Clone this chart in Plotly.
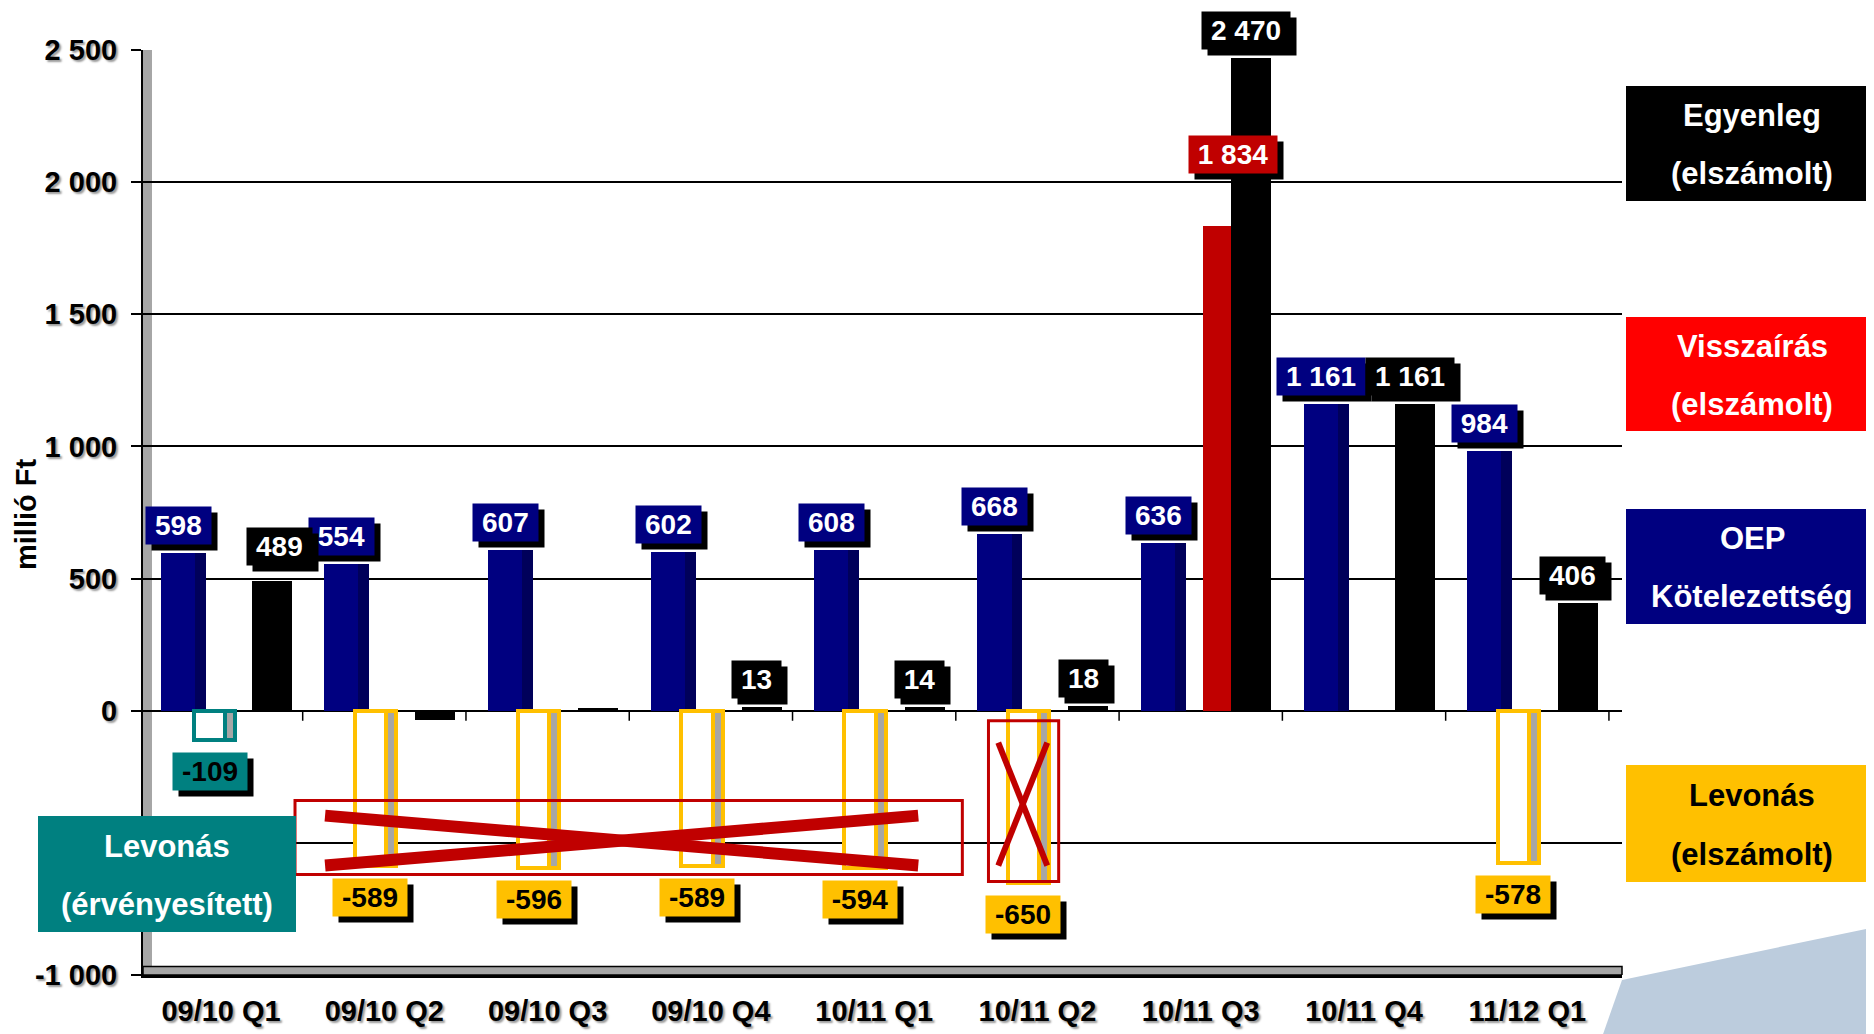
import plotly.graph_objects as go

# ---------------- data ----------------
categories = ["09/10 Q1", "09/10 Q2", "09/10 Q3", "09/10 Q4", "10/11 Q1",
              "10/11 Q2", "10/11 Q3", "10/11 Q4", "11/12 Q1"]
oep_kotelezettseg = [598, 554, 607, 602, 608, 668, 636, 1161, 984]
levonas_elszamolt = [None, -589, -596, -589, -594, -650, None, None, -578]
levonas_ervenyesitett = [-109, None, None, None, None, None, None, None, None]
visszairas = [None, None, None, None, None, None, 1834, None, None]
egyenleg = [489, -35, 11, 13, 14, 18, 2470, 1161, 406]
egyenleg_labelled = [True, False, False, True, True, True, True, True, True]
y_tick_values = [-1000, -500, 0, 500, 1000, 1500, 2000, 2500]
y_tick_labels = ["-1 000", "", "0", "500", "1 000", "1 500", "2 000", "2 500"]

# ---------------- layout constants ----------------
FONT = "Liberation Sans"
PAGE = 8                      # default body margin of the html page
W, H = 1874 - PAGE, 1034 - PAGE
PLOT_L, PLOT_R, PLOT_T, PLOT_B = 143, 1622, 50, 975   # page pixels
ML, MT = PLOT_L - PAGE, PLOT_T - PAGE
MR, MB = W - (PLOT_R - PAGE), H - (PLOT_B - PAGE)
PW, PH = PLOT_R - PLOT_L, PLOT_B - PLOT_T
X_RANGE = [-0.478, 8.58]
Y_RANGE = [-1000, 2500]


def paper_x(px):
    return (px - PLOT_L) / PW


def paper_y(py):
    return (PLOT_B - py) / PH


def fmt(v):
    s = f"{abs(v):,}".replace(",", " ")
    return ("-" if v < 0 else "") + s


def text_width(txt, size):
    w = 0
    for ch in txt:
        if ch.isdigit():
            w += 0.556
        elif ch == " ":
            w += 0.278
        elif ch == "-":
            w += 0.333
        else:
            w += 0.6
    return w * size


series = [
    dict(key="oep", values=oep_kotelezettseg, center=-0.23, width=0.275,
         face="#000080", side="#00005A", line=None, label_bg="#000080", label_fg="white"),
    dict(key="lev", values=levonas_elszamolt, center=-0.055, width=0.255,
         face="white", side="#A6A6A6", line="#FFC000", label_bg="#FFC000", label_fg="black"),
    dict(key="erv", values=levonas_ervenyesitett, center=-0.04, width=0.25,
         face="white", side="#A6A6A6", line="#008080", label_bg="#008080", label_fg="black"),
    dict(key="vissza", values=visszairas, center=0.14, width=0.25,
         face="#C00000", side="#A00000", line=None, label_bg="#C00000", label_fg="white"),
    dict(key="egy", values=egyenleg, center=0.31, width=0.245,
         face="#000000", side="#000000", line=None, label_bg="#000000", label_fg="white"),
]

fig = go.Figure()

for s in series:
    left = s["center"] - s["width"] / 2
    lw = 4 if s["line"] else 0
    lc = s["line"] or s["face"]
    # side (depth) face
    fig.add_trace(go.Bar(x=categories, y=s["values"], width=s["width"], offset=left,
                         marker=dict(color=s["side"], line=dict(color=lc, width=lw)),
                         showlegend=False, hoverinfo="skip"))
    # front face
    fig.add_trace(go.Bar(x=categories, y=s["values"], width=s["width"] * 0.76, offset=left,
                         marker=dict(color=s["face"], line=dict(color=lc, width=lw)),
                         showlegend=False, hoverinfo="skip"))

# ---------------- data labels ----------------
LABEL_SIZE = 28
label_shift = {("vissza", 6): (9, 52), ("egy", 0): (8, 15)}

for s in series:
    for i, v in enumerate(s["values"]):
        if v is None:
            continue
        if s["key"] == "egy" and not egyenleg_labelled[i]:
            continue
        txt = fmt(v)
        dx, dy = label_shift.get((s["key"], i), (-5, 8))
        pos = v >= 0
        ys = dy if pos else -12
        common = dict(x=i + s["center"], y=v, xref="x", yref="y",
                      showarrow=False, xanchor="center",
                      yanchor="bottom" if pos else "top",
                      borderpad=3, width=text_width(txt, LABEL_SIZE) + 12)
        # drop shadow box (blank text)
        fig.add_annotation(**common, text="\u00a0", bgcolor="black", xshift=dx + 6, yshift=ys - 6,
                           font=dict(family=FONT, size=LABEL_SIZE, weight="bold", color="black"))
        fig.add_annotation(**common, text=txt, bgcolor=s["label_bg"], xshift=dx, yshift=ys,
                           font=dict(family=FONT, size=LABEL_SIZE, weight="bold", color=s["label_fg"]))

# ---------------- decorative shapes ----------------
shapes = []
# left wall
shapes.append(dict(type="rect", xref="paper", yref="paper", x0=0, x1=paper_x(152), y0=0, y1=1,
                   fillcolor="#A6A6A6", line=dict(width=0), layer="below"))
# floor
shapes.append(dict(type="rect", xref="paper", yref="y", x0=0, x1=1, y0=-1000, y1=-968,
                   fillcolor="#A6A6A6", line=dict(color="black", width=1.5), layer="below"))
# category ticks on the zero line
for i in range(len(categories)):
    shapes.append(dict(type="line", xref="x", yref="y", x0=i + 0.5, x1=i + 0.5, y0=0, y1=-38,
                       line=dict(color="black", width=1.5)))
# red crossings
RED = "#C00000"
shapes.append(dict(type="rect", xref="x", yref="y", x0=0.453, x1=4.54, y0=-340, y1=-620,
                   line=dict(color=RED, width=3)))
shapes.append(dict(type="line", xref="x", yref="y", x0=0.637, x1=4.27, y0=-397, y1=-586,
                   line=dict(color=RED, width=12)))
shapes.append(dict(type="line", xref="x", yref="y", x0=0.637, x1=4.27, y0=-586, y1=-397,
                   line=dict(color=RED, width=12)))
shapes.append(dict(type="rect", xref="x", yref="y", x0=4.70, x1=5.13, y0=-38, y1=-646,
                   line=dict(color=RED, width=3)))
shapes.append(dict(type="line", xref="x", yref="y", x0=4.76, x1=5.06, y0=-121, y1=-586,
                   line=dict(color=RED, width=6)))
shapes.append(dict(type="line", xref="x", yref="y", x0=4.76, x1=5.06, y0=-586, y1=-121,
                   line=dict(color=RED, width=6)))
# bottom-right wedge
pts = [(1601, 1040), (1622, 980), (1880, 926), (1880, 1040)]
path = "M " + " L ".join(f"{paper_x(x):.5f},{paper_y(y):.5f}" for x, y in pts) + " Z"
shapes.append(dict(type="path", xref="paper", yref="paper", path=path,
                   fillcolor="#BCCCDD", line=dict(width=0), layer="below"))

# ---------------- legend boxes ----------------
legend_boxes = [
    (["Egyenleg", "(elszámolt)"], "#000000", "white", 1626, 1880, 86, 201, 1752),
    (["Visszaírás", "(elszámolt)"], "#FF0000", "white", 1626, 1880, 317, 431, 1752),
    (["OEP", "Kötelezettség"], "#000080", "white", 1626, 1880, 509, 624, 1752),
    (["Levonás", "(elszámolt)"], "#FFC000", "black", 1626, 1880, 765, 882, 1752),
    (["Levonás", "(érvényesített)"], "#008080", "white", 38, 296, 816, 932, 167),
]
for lines, bg, fg, x0, x1, y0, y1, xc in legend_boxes:
    shapes.append(dict(type="rect", xref="paper", yref="paper",
                       x0=paper_x(x0), x1=paper_x(x1), y0=paper_y(y1), y1=paper_y(y0),
                       fillcolor=bg, line=dict(width=0), layer="above"))
    h = y1 - y0
    for k, t in enumerate(lines):
        yc = y0 + h * (0.26 if k == 0 else 0.765)
        fig.add_annotation(x=paper_x(xc), y=paper_y(yc), xref="paper", yref="paper",
                           text=t, showarrow=False, xanchor="center", yanchor="middle",
                           font=dict(family=FONT, size=31, weight="bold", color=fg))

# y-axis title
fig.add_annotation(x=paper_x(26), y=paper_y(514), xref="paper", yref="paper",
                   text="millió Ft", textangle=-90, showarrow=False,
                   xanchor="center", yanchor="middle",
                   font=dict(family=FONT, size=29, weight="bold", color="black"))

fig.update_layout(
    width=W, height=H,
    margin=dict(l=ML, r=MR, t=MT, b=MB, autoexpand=False),
    paper_bgcolor="white", plot_bgcolor="white",
    barmode="overlay", bargap=0,
    showlegend=False,
    shapes=shapes,
    xaxis=dict(
        type="category", categoryorder="array", categoryarray=categories,
        range=X_RANGE, showgrid=False, zeroline=False,
        showline=True, linecolor="black", linewidth=3,
        ticks="", ticklabelstandoff=8,
        tickfont=dict(family=FONT, size=29, weight="bold", color="black",
                      shadow="2px 2px 2px #9a9a9a"),
    ),
    yaxis=dict(
        range=Y_RANGE, tickmode="array", tickvals=y_tick_values, ticktext=y_tick_labels,
        showgrid=True, gridcolor="black", gridwidth=1.5,
        zeroline=True, zerolinecolor="black", zerolinewidth=2,
        showline=True, linecolor="black", linewidth=2,
        ticks="outside", ticklen=10, tickwidth=2, tickcolor="black",
        ticklabelstandoff=8,
        tickfont=dict(family=FONT, size=29, weight="bold", color="black",
                      shadow="2px 2px 2px #9a9a9a"),
    ),
)

fig.write_html("out.html")
